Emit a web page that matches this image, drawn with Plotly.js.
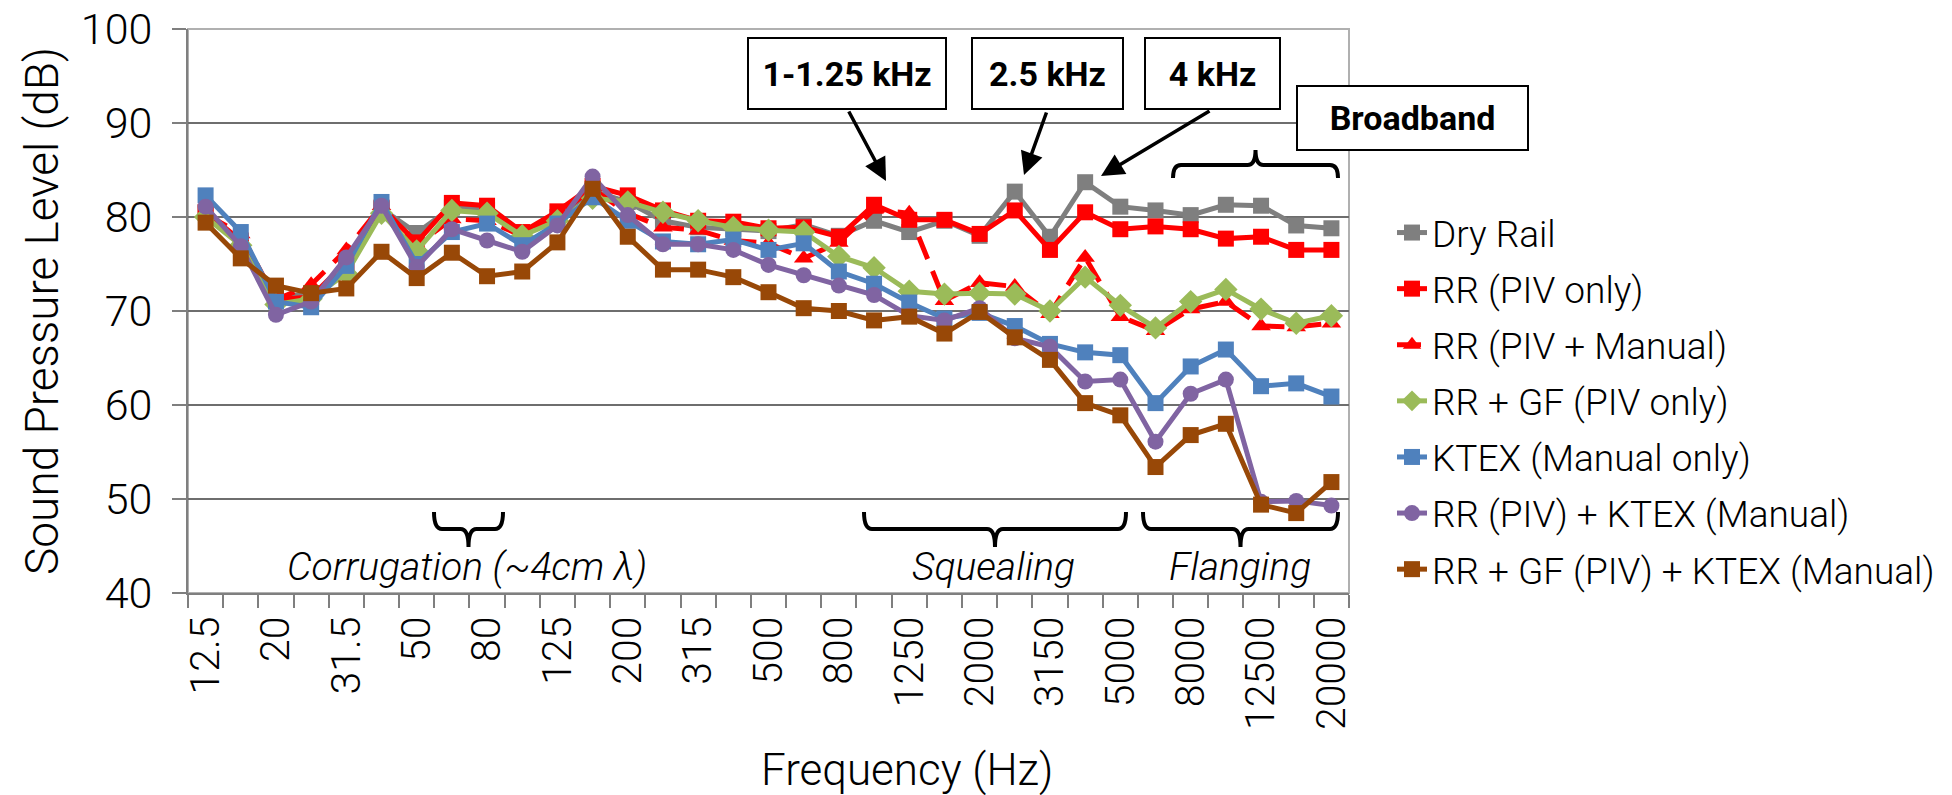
<!DOCTYPE html>
<html>
<head>
<meta charset="utf-8">
<script src="https://cdn.plot.ly/plotly-3.0.1.min.js"></script>
<style>
html, body { margin: 0; padding: 0; background: #fff; }
#chart { width: 1952px; height: 795px; }
</style>
</head>
<body>
<div id="chart"></div>
<script>
// ---- data ----
const frequencies = ["12.5","16","20","25","31.5","40","50","63","80","100","125","160","200","250","315","400","500","630","800","1000","1250","1600","2000","2500","3150","4000","5000","6300","8000","10000","12500","16000","20000"];

const dryRail      = [80.5,77.3,71.5,71.8,74.2,80.9,78.3,81.0,80.8,78.2,80.0,82.8,81.6,79.6,78.9,78.7,78.5,79.2,78.0,79.6,78.4,79.6,78.0,82.7,77.9,83.7,81.1,80.7,80.2,81.3,81.2,79.1,78.8];
const rrPivOnly    = [80.5,77.5,71.2,71.5,75.2,81.0,77.3,81.5,81.2,78.4,80.6,83.3,82.3,80.7,79.6,79.5,78.8,78.9,77.9,81.3,79.7,79.7,78.2,80.7,76.5,80.5,78.7,79.0,78.7,77.7,77.9,76.5,76.5];
const rrPivManual  = [80.3,78.2,71.2,72.8,76.5,81.2,77.0,79.8,79.6,78.0,80.2,83.0,80.4,78.9,78.6,77.5,77.2,75.6,77.3,80.8,80.4,71.1,73.0,72.6,69.7,75.7,69.4,67.9,70.2,71.0,68.4,68.3,68.7];
const rrGfPivOnly  = [80.0,77.0,70.7,71.3,74.0,80.4,76.4,80.7,80.4,78.0,79.6,82.0,81.6,80.5,79.6,78.9,78.6,78.4,75.8,74.6,72.1,71.8,71.9,71.8,70.0,73.6,70.6,68.2,71.0,72.3,70.2,68.7,69.5];
const ktexManual   = [82.3,78.4,71.0,70.4,74.8,81.6,75.0,78.4,79.3,77.0,79.3,82.1,79.6,77.4,77.1,77.6,76.5,77.2,74.2,72.9,70.9,69.2,69.8,68.4,66.5,65.6,65.3,60.2,64.1,65.9,62.0,62.3,60.9];
const rrPivKtex    = [81.1,76.9,69.6,71.0,75.7,81.2,74.7,78.7,77.5,76.3,79.1,84.3,80.2,77.1,77.1,76.5,74.9,73.8,72.7,71.7,69.5,69.0,70.3,67.1,66.2,62.5,62.7,56.1,61.2,62.7,49.7,49.8,49.3];
const rrGfPivKtex  = [79.4,75.6,72.7,71.9,72.4,76.3,73.5,76.2,73.7,74.2,77.3,83.0,77.9,74.4,74.4,73.6,72.0,70.3,70.0,69.0,69.4,67.6,69.9,67.2,64.8,60.2,58.9,53.4,56.8,58.0,49.4,48.5,51.8];

const seriesNames = ["Dry Rail","RR (PIV only)","RR (PIV + Manual)","RR + GF (PIV only)","KTEX (Manual only)","RR (PIV) + KTEX (Manual)","RR + GF (PIV) + KTEX (Manual)"];
const tickLabels = frequencies.map((f, i) => (i % 2 === 0 ? f : ""));

const bandLabels = ["Corrugation (~4cm \u03bb)", "Squealing", "Flanging"];
const peakLabels = ["1-1.25 kHz", "2.5 kHz", "4 kHz", "Broadband"];

// ---- styles ----
const seriesData = [dryRail, rrPivOnly, rrPivManual, rrGfPivOnly, ktexManual, rrPivKtex, rrGfPivKtex];
const styles = [
  {color:"#7f7f7f", symbol:"square", dash:"solid", size:16},
  {color:"#ff0000", symbol:"square", dash:"solid", size:16},
  {color:"#ff0000", symbol:"triangle-up", dash:"24px,13px", size:17},
  {color:"#9bbb59", symbol:"diamond", dash:"solid", size:18},
  {color:"#4f81bd", symbol:"square", dash:"solid", size:16},
  {color:"#8064a2", symbol:"circle", dash:"solid", size:16},
  {color:"#984807", symbol:"square", dash:"solid", size:16}
];

const traces = seriesData.map((vals, k) => ({
  type: "scatter",
  mode: "lines+markers",
  name: seriesNames[k],
  x: frequencies,
  y: vals,
  legendgroup: "g" + k,
  line: {color: styles[k].color, width: 5, dash: styles[k].dash},
  marker: {color: styles[k].color, symbol: styles[k].symbol, size: styles[k].size, line: {width: 0}}
}));

// pixel geometry of the plot area
const L = 188, R = 1349, T = 29, B = 593;
const px = p => (p - L) / (R - L);
const py = p => (B - p) / (B - T);

function braceDown(x0, x1, yTop, yLine, yTip) {
  const xc = (x0 + x1) / 2, r = 8;
  const P = (x, y) => px(x).toFixed(5) + "," + py(y).toFixed(5);
  return "M" + P(x0, yTop) + " Q" + P(x0, yLine) + " " + P(x0 + r, yLine) +
         " L" + P(xc - r, yLine) + " Q" + P(xc, yLine) + " " + P(xc, yTip) +
         " Q" + P(xc, yLine) + " " + P(xc + r, yLine) +
         " L" + P(x1 - r, yLine) + " Q" + P(x1, yLine) + " " + P(x1, yTop);
}

const braceLine = {color: "#000", width: 4};
const shapes = [
  {type:"rect", xref:"paper", yref:"paper", x0:0, x1:1, y0:0, y1:1, line:{color:"#b0b0b0", width:2}, layer:"below"},
  {type:"path", xref:"paper", yref:"paper", path: braceDown(434, 503, 512, 529, 547), line: braceLine},
  {type:"path", xref:"paper", yref:"paper", path: braceDown(864, 1126, 512, 529, 547), line: braceLine},
  {type:"path", xref:"paper", yref:"paper", path: braceDown(1143, 1338, 512, 529, 547), line: braceLine},
  {type:"path", xref:"paper", yref:"paper", path: braceDown(1173, 1338, 178, 165, 150), line: braceLine}
];

const italicFont = {family:"Roboto, sans-serif", size:39, color:"#000", style:"italic", weight:300};
const boxFont = {family:"Roboto, sans-serif", size:34, color:"#000", weight:700};

function box(text, x0, x1, y0, y1) {
  return {xref:"paper", yref:"paper", x: px((x0 + x1) / 2), y: py((y0 + y1) / 2),
    xanchor:"center", yanchor:"middle", text: text, showarrow:false,
    bordercolor:"#000", borderwidth:2, borderpad:0, bgcolor:"#fff",
    width: x1 - x0 - 4, height: y1 - y0 - 4, font: boxFont, align:"center", valign:"middle"};
}
function arrow(xt, yt, xh, yh) {
  return {xref:"paper", yref:"paper", axref:"paper", ayref:"paper",
    x: px(xh), y: py(yh), ax: px(xt), ay: py(yt), text:"", showarrow:true,
    arrowhead:2, arrowsize:1.3, arrowwidth:3.5, arrowcolor:"#000", standoff:0, startstandoff:0};
}

const annotations = [
  {xref:"paper", yref:"paper", x: px(467), y: py(567), text: bandLabels[0], showarrow:false, font: italicFont, xanchor:"center", yanchor:"middle"},
  {xref:"paper", yref:"paper", x: px(993), y: py(567), text: bandLabels[1], showarrow:false, font: italicFont, xanchor:"center", yanchor:"middle"},
  {xref:"paper", yref:"paper", x: px(1240), y: py(567), text: bandLabels[2], showarrow:false, font: italicFont, xanchor:"center", yanchor:"middle"},
  box("<b>" + peakLabels[0] + "</b>", 747, 947, 37, 110),
  box("<b>" + peakLabels[1] + "</b>", 971, 1124, 37, 110),
  box("<b>" + peakLabels[2] + "</b>", 1144, 1281, 37, 110),
  box("<b>" + peakLabels[3] + "</b>", 1296, 1529, 85, 151),
  arrow(848, 110, 886, 181),
  arrow(1047, 111, 1024, 175),
  arrow(1211, 110, 1101, 176),
  {xref:"paper", yref:"paper", x: px(907), y: py(770), text:"Frequency (Hz)", showarrow:false,
   font:{family:"Roboto, sans-serif", size:44, color:"#000", weight:300}, xanchor:"center", yanchor:"middle"}
];

const xTickFont = {family:"Roboto, sans-serif", size:41, color:"#000", weight:300};
const yTickFont = {family:"Roboto, sans-serif", size:43, color:"#000", weight:300};

const layout = {
  width: 1952, height: 795, autosize: false,
  paper_bgcolor: "#fff", plot_bgcolor: "#fff",
  margin: {l: L, r: 1952 - R, t: T, b: 795 - B, pad: 0},
  showlegend: true,
  legend: {x: px(1392), y: py(401), xanchor:"left", yanchor:"middle",
           font:{family:"Roboto, sans-serif", size:37, color:"#000", weight:300},
           traceorder:"grouped", tracegroupgap: 5, bgcolor:"rgba(0,0,0,0)", borderwidth:0,
           itemwidth: 30},
  xaxis: {
    type: "category",
    categoryorder: "array", categoryarray: frequencies,
    tickmode: "array", tickvals: frequencies, ticktext: tickLabels,
    tickson: "boundaries",
    ticks: "outside", ticklen: 13, tickwidth: 2, tickcolor: "#7f7f7f",
    tickangle: -90, tickfont: xTickFont, ticklabelstandoff: 5,
    showgrid: false, zeroline: false,
    showline: true, linecolor: "#7f7f7f", linewidth: 2,
    range: [-0.5, 32.5], automargin: false
  },
  yaxis: {
    range: [40, 100], tickmode: "linear", tick0: 40, dtick: 10,
    ticks: "outside", ticklen: 14, tickwidth: 2, tickcolor: "#7f7f7f",
    tickfont: yTickFont, ticklabelstandoff: 11,
    showgrid: true, gridcolor: "#6e6e6e", gridwidth: 2,
    zeroline: false, showline: true, linecolor: "#7f7f7f", linewidth: 2,
    title: {text: "Sound Pressure Level (dB)", font:{family:"Roboto, sans-serif", size:46, color:"#000", weight:300}, standoff: 8},
    automargin: false
  },
  shapes: shapes,
  annotations: annotations
};

Plotly.newPlot("chart", traces, layout, {staticPlot: true, displayModeBar: false});
</script>
</body>
</html>
